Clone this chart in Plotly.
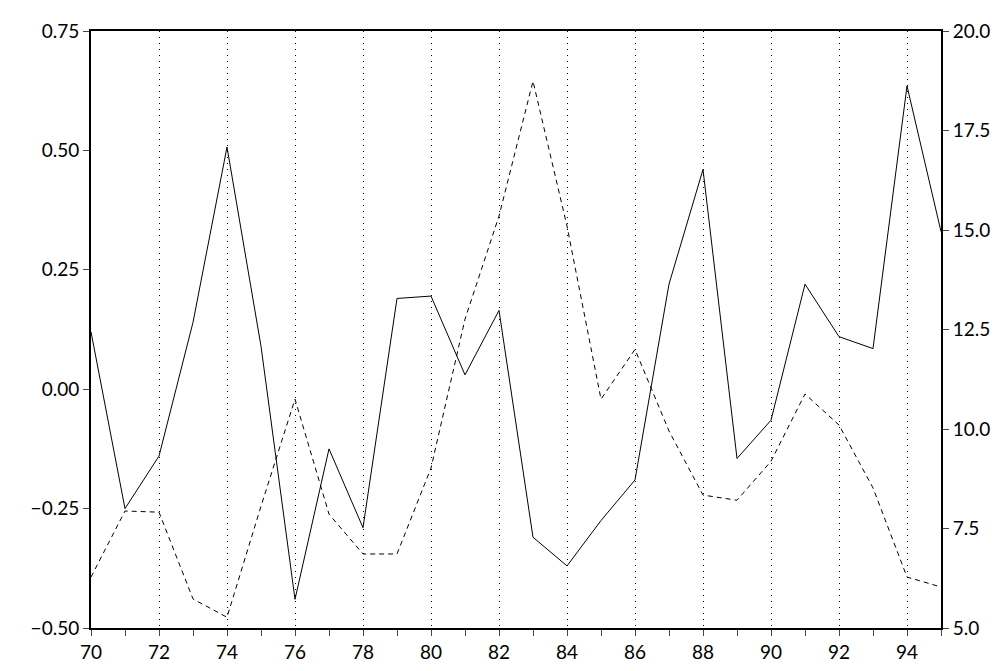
import plotly.graph_objects as go

years = list(range(70, 96))
solid = [0.12, -0.25, -0.14, 0.14, 0.507, 0.09, -0.44, -0.125, -0.29, 0.19, 0.195, 0.03, 0.165,
         -0.31, -0.37, -0.275, -0.19, 0.22, 0.46, -0.145, -0.065, 0.22, 0.11, 0.085, 0.635, 0.33]
dashed = [6.28, 7.94, 7.91, 5.73, 5.27, 8.06, 10.75, 7.86, 6.86, 6.86, 9.02, 12.76, 15.35,
          18.74, 15.1, 10.75, 12.0, 9.95, 8.34, 8.21, 9.19, 10.88, 10.1, 8.52, 6.28, 6.03]
left_ticks = [-0.50, -0.25, 0.00, 0.25, 0.50, 0.75]
right_ticks = [5.0, 7.5, 10.0, 12.5, 15.0, 17.5, 20.0]

fig = go.Figure()
fig.add_trace(go.Scatter(x=years, y=solid, mode="lines", line=dict(color="black", width=1), yaxis="y"))
fig.add_trace(go.Scatter(x=years, y=dashed, mode="lines", line=dict(color="black", width=1, dash="5px,4px"), yaxis="y2"))

font = dict(family="Lato, DejaVu Sans, sans-serif", size=19, color="black")
fig.update_layout(
    width=1006, height=671, showlegend=False,
    margin=dict(l=83, r=73, t=23, b=51, autoexpand=False),
    plot_bgcolor="white", paper_bgcolor="white", font=font,
    xaxis=dict(range=[70, 95], tickvals=list(range(70, 96, 2)), ticktext=[str(v) for v in range(70, 96, 2)],
               ticks="outside", ticklen=6, showline=True, linecolor="black", linewidth=2, mirror=True,
               showgrid=True, gridcolor="black", griddash="1px,5px", gridwidth=1, zeroline=False,
               automargin=False,
               minor=dict(tickvals=list(range(71, 96, 2)), ticks="outside", ticklen=6, showgrid=False)),
    yaxis=dict(range=[-0.5, 0.75], tickvals=left_ticks, ticktext=[f"{v:.2f}".replace("-", "\u2212") for v in left_ticks],
               ticks="outside", ticklen=6, showline=True, linecolor="black", linewidth=2,
               showgrid=False, zeroline=False, automargin=False),
    yaxis2=dict(range=[5, 20], tickvals=right_ticks, ticktext=[f"{v:.1f}" for v in right_ticks],
                overlaying="y", side="right", ticks="outside", ticklen=6, showline=True,
                linecolor="black", linewidth=2, showgrid=False, zeroline=False, automargin=False),
)
fig.write_html("out.html")
